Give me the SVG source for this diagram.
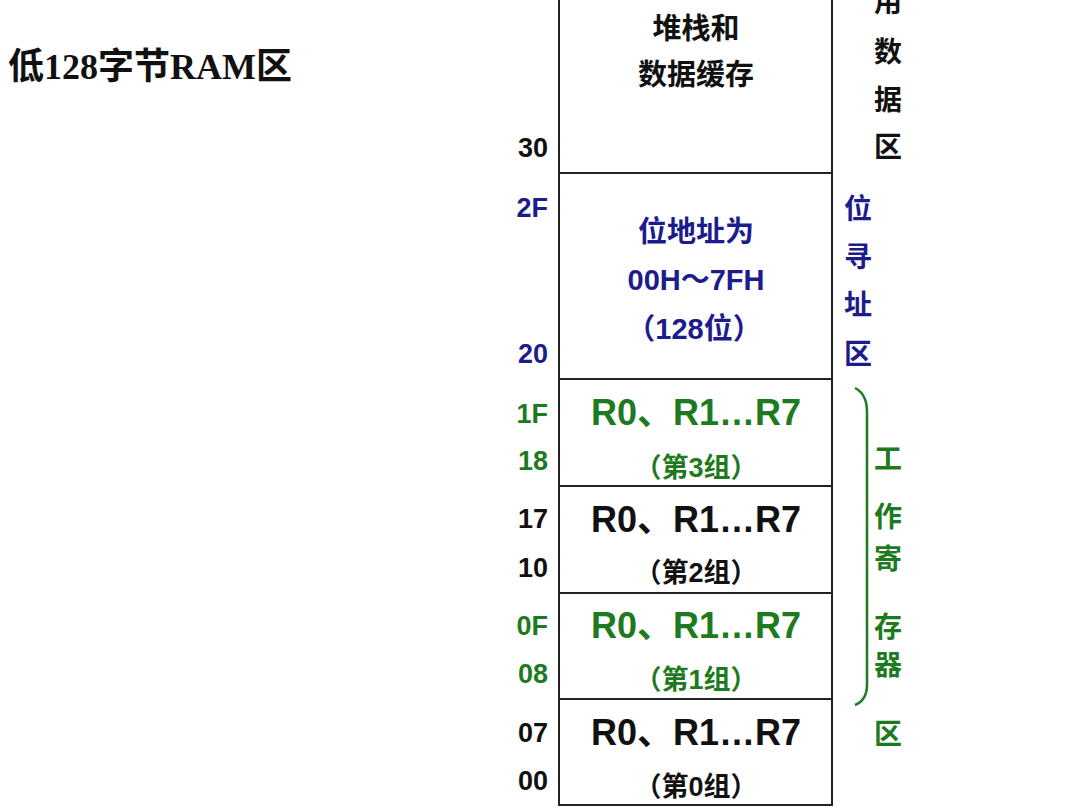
<svg xmlns="http://www.w3.org/2000/svg" width="1080" height="810" viewBox="0 0 1080 810">
<style>
.t{font-family:"Liberation Sans","Noto Sans CJK SC",sans-serif;font-weight:bold}
.c{text-anchor:middle}
.a{text-anchor:end;font-size:27px}
.k{fill:#111}
.b{fill:#1c1c8c}
.g{fill:#1e7a1e}
.box{fill:#fff;stroke:#222;stroke-width:2}
.reg{font-size:36px}
.grp{font-size:27px}
.big{font-size:28px}
.mid{font-size:29px}
</style>
<rect width="1080" height="810" fill="#fff"/>
<text x="8" y="79" style="font-family:'Liberation Serif','Noto Sans CJK SC',serif;font-weight:bold;font-size:36px" fill="#111">低128字节RAM区</text>

<g id="stack">
<rect class="box" x="559" y="-10" width="273" height="183"/>
<text class="t c k mid" x="696" y="39">堆栈和</text>
<text class="t c k mid" x="696" y="85">数据缓存</text>
<text class="t a k" x="548" y="157">30</text>
</g>
<g id="bitarea">
<rect class="box" x="559" y="173" width="273" height="206"/>
<text class="t c b mid" x="696" y="242">位地址为</text>
<text class="t c b mid" x="696" y="290">00H～7FH</text>
<text class="t c b mid" x="694" y="339">（128位）</text>
<text class="t a b" x="548" y="217">2F</text>
<text class="t a b" x="548" y="363">20</text>
</g>
<g id="bank3">
<rect class="box" x="559" y="379" width="273" height="107"/>
<text class="t c g reg" x="696" y="425">R0、R1…R7</text>
<text class="t c g grp" x="696" y="477">（第3组）</text>
<text class="t a g" x="548" y="423">1F</text>
<text class="t a g" x="548" y="470">18</text>
</g>
<g id="bank2">
<rect class="box" x="559" y="486" width="273" height="107"/>
<text class="t c k reg" x="696" y="532">R0、R1…R7</text>
<text class="t c k grp" x="696" y="582">（第2组）</text>
<text class="t a k" x="548" y="528">17</text>
<text class="t a k" x="548" y="577">10</text>
</g>
<g id="bank1">
<rect class="box" x="559" y="593" width="273" height="106"/>
<text class="t c g reg" x="696" y="638">R0、R1…R7</text>
<text class="t c g grp" x="696" y="689">（第1组）</text>
<text class="t a g" x="548" y="635">0F</text>
<text class="t a g" x="548" y="683">08</text>
</g>
<g id="bank0">
<rect class="box" x="559" y="699" width="273" height="106"/>
<text class="t c k reg" x="696" y="745">R0、R1…R7</text>
<text class="t c k grp" x="696" y="796">（第0组）</text>
<text class="t a k" x="548" y="742">07</text>
<text class="t a k" x="548" y="790">00</text>
</g>

<g id="label-user" class="t c k big">
<text x="888" y="12">用</text>
<text x="888" y="62">数</text>
<text x="888" y="110">据</text>
<text x="888" y="157">区</text>
</g>
<g id="label-bit" class="t c b big">
<text x="858" y="219">位</text>
<text x="858" y="267">寻</text>
<text x="858" y="315">址</text>
<text x="858" y="364">区</text>
</g>
<g id="connectors">
<path d="M855,388 Q867,394 867,412 L867,685 Q867,700 855,705" fill="none" stroke="#1e7a1e" stroke-width="2.5"/>
</g>
<g id="label-work" class="t c g big">
<text x="888" y="469">工</text>
<text x="888" y="527">作</text>
<text x="888" y="569">寄</text>
<text x="888" y="637">存</text>
<text x="888" y="675">器</text>
<text x="888" y="744">区</text>
</g>
</svg>
